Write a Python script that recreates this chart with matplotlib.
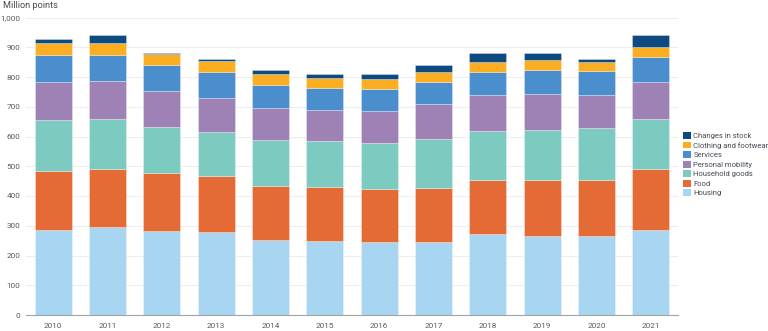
import matplotlib
matplotlib.use("Agg")
import matplotlib.pyplot as plt
from matplotlib.patches import Patch
import numpy as np

plt.rcParams['font.family'] = ['Roboto', 'DejaVu Sans']

years = ["2010", "2011", "2012", "2013", "2014", "2015", "2016", "2017", "2018", "2019", "2020", "2021"]
housing = [286, 295, 282, 279, 251, 249, 244, 245, 271, 267, 264, 286]
food = [198, 196, 194, 188, 183, 181, 179, 182, 182, 186, 191, 204]
household_goods = [173, 167, 157, 147, 154, 155, 154, 165, 164, 169, 173, 169]
personal_mobility = [127, 127, 119, 117, 108, 105, 109, 116, 121, 121, 110, 123]
services = [89, 89, 87, 85, 78, 73, 74, 75, 79, 80, 83, 85]
clothing = [42, 41, 38, 37, 37, 34, 32, 35, 35, 35, 29, 33]
changes_stock = [13, 25, 2, 6, 13, 13, 17, 21, 27, 21, 9, 42]

series = [
    ("Housing", housing, "#a7d5f2"),
    ("Food", food, "#e46b35"),
    ("Household goods", household_goods, "#7ccac0"),
    ("Personal mobility", personal_mobility, "#9e82b5"),
    ("Services", services, "#4a8ecd"),
    ("Clothing and footwear", clothing, "#fcae22"),
    ("Changes in stock", changes_stock, "#0d4a7f"),
]

fig = plt.figure(figsize=(7.68, 3.31), dpi=100)
ax = fig.add_axes([26/768, 1-315/331, (678-26)/768, (315-17.5)/331])

x = np.arange(len(years))
bottom = np.zeros(len(years))
for name, vals, col in series:
    v = np.array(vals, dtype=float)
    ax.bar(x, v, bottom=bottom, width=0.68, color=col, edgecolor=(1, 1, 1, 0.35), linewidth=0.6, zorder=3)
    bottom += v

ax.set_xlim(-0.5, len(years) - 0.5)
ax.set_ylim(0, 1000)
ax.set_yticks(np.arange(0, 1001, 100))
ax.set_yticklabels([f"{t:,}" for t in range(0, 1001, 100)])
ax.set_xticks(x)
ax.set_xticklabels(years)
ax.tick_params(axis='both', length=0, labelsize=5.9, labelcolor="#555b63")
ax.tick_params(axis='x', pad=6)
ax.tick_params(axis='y', pad=4)
ax.grid(axis='y', color="#eeeeee", linewidth=0.8, zorder=0)
for s in ["top", "right", "left"]:
    ax.spines[s].set_visible(False)
ax.spines["bottom"].set_color("#a0a4a8")
ax.spines["bottom"].set_linewidth(0.8)
ax.spines["bottom"].set_zorder(4)

fig.text(3/768, 1-6/331, "Million points", fontsize=6.6, color="#444a52", ha="left", va="center")

handles = [Patch(facecolor=col, edgecolor='none', label=name) for name, _, col in reversed(series)]
fig.legend(handles=handles, loc="upper left", bbox_to_anchor=(683/768, 1-132/331),
           frameon=False, fontsize=5.5, handlelength=1.0, handleheight=1.0,
           handletextpad=0.35, labelspacing=0.33, borderpad=0, borderaxespad=0,
           labelcolor="#444a52")

fig.savefig("out.png", dpi=100)
